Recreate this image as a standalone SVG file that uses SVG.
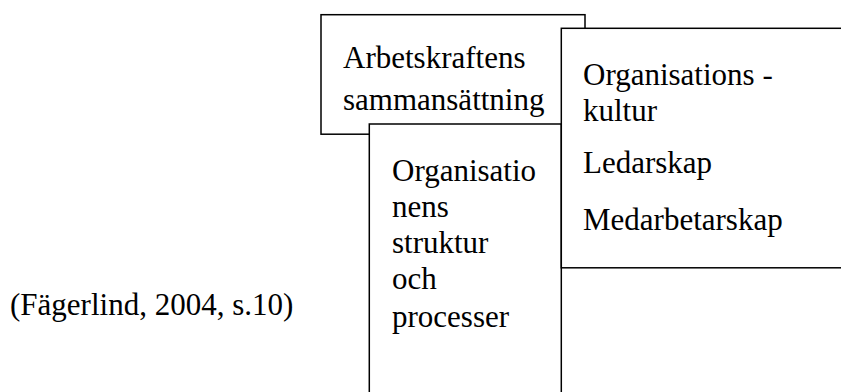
<svg xmlns="http://www.w3.org/2000/svg" width="841" height="392" viewBox="0 0 841 392">
<style>
.box{fill:#fff;stroke:#000;stroke-width:1.5}
.t{font-family:"Liberation Serif","Times New Roman",serif;font-size:31px;fill:#000}
</style>
<rect width="841" height="392" fill="#fff"/>
<g id="arbetskraft">
<rect class="box" x="321" y="14.7" width="264" height="119.5"/>
<text class="t" x="343" y="67.5">Arbetskraftens</text>
<text class="t" x="343" y="110">sammansättning</text>
</g>
<g id="struktur">
<rect class="box" x="369.3" y="124" width="192" height="300"/>
<text class="t" x="392" y="181">Organisatio</text>
<text class="t" x="392" y="217">nens</text>
<text class="t" x="392" y="253">struktur</text>
<text class="t" x="392" y="289">och</text>
<text class="t" x="392" y="327">processer</text>
</g>
<g id="kultur">
<rect class="box" x="561.3" y="28.3" width="300" height="239.5"/>
<text class="t" x="583" y="85">Organisations -</text>
<text class="t" x="583" y="121">kultur</text>
<text class="t" x="583" y="173">Ledarskap</text>
<text class="t" x="583" y="230">Medarbetarskap</text>
</g>
<g id="connectors"/>
<text id="citation" class="t" x="10" y="315">(Fägerlind, 2004, s.10)</text>
</svg>
